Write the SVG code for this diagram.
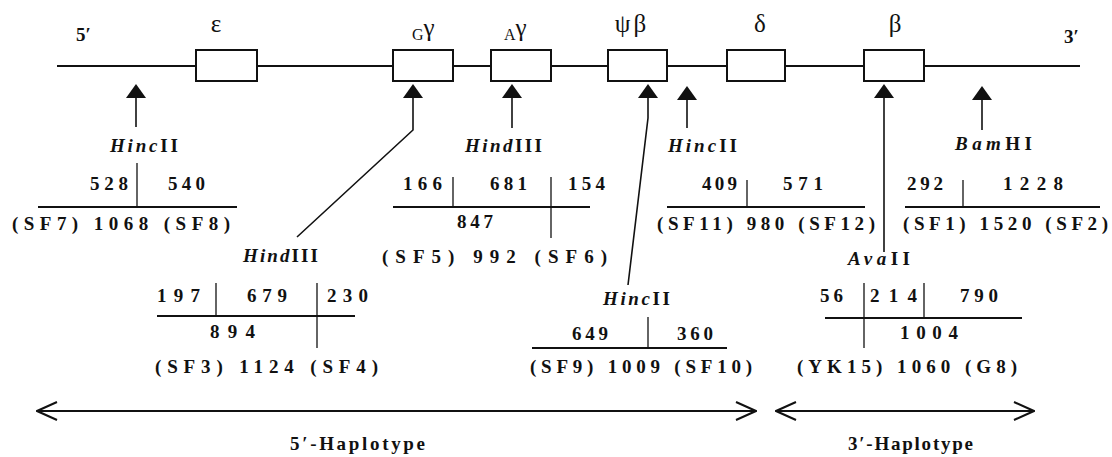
<svg xmlns="http://www.w3.org/2000/svg" xmlns:xlink="http://www.w3.org/1999/xlink" width="1112" height="457" viewBox="0 0 1112 457">
<style>
.t{font-family:"Liberation Serif",serif;font-size:19px;font-weight:bold;fill:#111}
.i{font-style:italic}
.g{font-family:"Liberation Serif",serif;font-size:25px;fill:#111}
.s{font-family:"Liberation Serif",serif;font-size:16px;fill:#111}
.ln{stroke:#111;stroke-width:2;fill:none}
.dv{stroke:#111;stroke-width:1.3;fill:none}
.box{stroke:#111;stroke-width:2;fill:#fff}
.st{stroke:#111;stroke-width:1.6;fill:none}
</style>
<defs>
<path id="tri" d="M0,0 L-10,14 L10,14 Z" fill="#111"/>
<marker id="oa" viewBox="0 0 22 20" refX="21" refY="10" markerWidth="22" markerHeight="20" markerUnits="userSpaceOnUse" orient="auto-start-reverse">
<path d="M1,1 L21,10 L1,19" fill="none" stroke="#111" stroke-width="2"/>
</marker>
</defs>
<rect width="1112" height="457" fill="#fff"/>

<g id="dna">
<line class="ln" x1="57" y1="66" x2="1080" y2="66"/>
<text class="t" x="76" y="41" font-weight="normal">5′</text>
<text class="t" x="1064" y="43" font-weight="normal">3′</text>
</g>

<g id="gene-epsilon">
<rect class="box" x="196" y="50" width="61" height="31"/>
<text class="g" x="216" y="32" text-anchor="middle">ε</text>
</g>
<g id="gene-Ggamma">
<rect class="box" x="393" y="50" width="60" height="31"/>
<text x="412" y="40"><tspan class="s">G</tspan><tspan class="g" font-size="22" dy="-4">γ</tspan></text>
</g>
<g id="gene-Agamma">
<rect class="box" x="491" y="50" width="60" height="31"/>
<text x="504" y="40"><tspan class="s">A</tspan><tspan class="g" font-size="22" dy="-4">γ</tspan></text>
</g>
<g id="gene-psibeta">
<rect class="box" x="608" y="50" width="59" height="31"/>
<text class="g" x="632" y="32" text-anchor="middle" letter-spacing="3">ψβ</text>
</g>
<g id="gene-delta">
<rect class="box" x="727" y="50" width="58" height="31"/>
<text class="g" x="760" y="32" text-anchor="middle">δ</text>
</g>
<g id="gene-beta">
<rect class="box" x="864" y="50" width="60" height="31"/>
<text class="g" x="895" y="32" text-anchor="middle">β</text>
</g>

<g id="connectors">
<use xlink:href="#tri" x="136" y="84"/>
<line class="st" x1="136" y1="97" x2="136" y2="127"/>
<use xlink:href="#tri" x="413" y="84"/>
<polyline class="st" points="413,97 413,130 297,237"/>
<use xlink:href="#tri" x="512" y="84"/>
<line class="st" x1="512" y1="97" x2="512" y2="128"/>
<use xlink:href="#tri" x="648" y="84"/>
<polyline class="st" points="648,97 648,118 628,285"/>
<use xlink:href="#tri" x="687" y="86"/>
<line class="st" x1="687" y1="99" x2="687" y2="128"/>
<use xlink:href="#tri" x="884" y="84"/>
<line class="st" x1="884" y1="97" x2="884" y2="252"/>
<use xlink:href="#tri" x="982" y="86"/>
<line class="st" x1="982" y1="99" x2="982" y2="130"/>
<line class="ln" x1="37" y1="411" x2="756" y2="411" marker-start="url(#oa)" marker-end="url(#oa)"/>
<line class="ln" x1="776" y1="411" x2="1034" y2="411" marker-start="url(#oa)" marker-end="url(#oa)"/>
</g>

<g id="site-hincII-1">
<text class="t" x="110" y="152" textLength="68" lengthAdjust="spacing"><tspan class="i">Hinc</tspan>II</text>
<text class="t" x="90" y="190" textLength="38" lengthAdjust="spacing">528</text>
<text class="t" x="168" y="190" textLength="37" lengthAdjust="spacing">540</text>
<line class="dv" x1="137" y1="163" x2="137" y2="207"/>
<line class="ln" x1="38" y1="207" x2="237" y2="207"/>
<text class="t" x="12" y="230" textLength="218" lengthAdjust="spacing">(SF7) 1068 (SF8)</text>
</g>

<g id="site-hindIII-1">
<text class="t" x="465" y="152" textLength="77" lengthAdjust="spacing"><tspan class="i">Hind</tspan>III</text>
<text class="t" x="403" y="190" textLength="39" lengthAdjust="spacing">166</text>
<text class="t" x="490" y="190" textLength="37" lengthAdjust="spacing">681</text>
<text class="t" x="568" y="190" textLength="37" lengthAdjust="spacing">154</text>
<line class="dv" x1="453" y1="177" x2="453" y2="207"/>
<line class="dv" x1="551" y1="177" x2="551" y2="238"/>
<line class="ln" x1="393" y1="207" x2="590" y2="207"/>
<text class="t" x="457" y="228" textLength="36" lengthAdjust="spacing">847</text>
<text class="t" x="382" y="263" textLength="225" lengthAdjust="spacing">(SF5)  992  (SF6)</text>
</g>

<g id="site-hincII-2">
<text class="t" x="668" y="152" textLength="69" lengthAdjust="spacing"><tspan class="i">Hinc</tspan>II</text>
<text class="t" x="702" y="190" textLength="35" lengthAdjust="spacing">409</text>
<text class="t" x="783" y="190" textLength="40" lengthAdjust="spacing">571</text>
<line class="dv" x1="747" y1="180" x2="747" y2="207"/>
<line class="ln" x1="667" y1="207" x2="865" y2="207"/>
<text class="t" x="657" y="230" textLength="218" lengthAdjust="spacing">(SF11) 980 (SF12)</text>
</g>

<g id="site-bamHI">
<text class="t" x="955" y="150" textLength="77" lengthAdjust="spacing"><tspan class="i">Bam</tspan>HI</text>
<text class="t" x="907" y="190" textLength="36" lengthAdjust="spacing">292</text>
<text class="t" x="1003" y="190" textLength="60" lengthAdjust="spacing">1228</text>
<line class="dv" x1="963" y1="180" x2="963" y2="207"/>
<line class="ln" x1="905" y1="207" x2="1100" y2="207"/>
<text class="t" x="903" y="230" textLength="205" lengthAdjust="spacing">(SF1) 1520 (SF2)</text>
</g>

<g id="site-hindIII-2">
<text class="t" x="243" y="262" textLength="75" lengthAdjust="spacing"><tspan class="i">Hind</tspan>III</text>
<text class="t" x="157" y="302" textLength="43" lengthAdjust="spacing">197</text>
<text class="t" x="247" y="302" textLength="40" lengthAdjust="spacing">679</text>
<text class="t" x="327" y="302" textLength="41" lengthAdjust="spacing">230</text>
<line class="dv" x1="216" y1="283" x2="216" y2="316"/>
<line class="dv" x1="317" y1="283" x2="317" y2="348"/>
<line class="ln" x1="157" y1="316" x2="355" y2="316"/>
<text class="t" x="210" y="338" textLength="45" lengthAdjust="spacing">894</text>
<text class="t" x="155" y="373" textLength="223" lengthAdjust="spacing">(SF3)  1124  (SF4)</text>
</g>

<g id="site-hincII-3">
<text class="t" x="603" y="305" textLength="67" lengthAdjust="spacing"><tspan class="i">Hinc</tspan>II</text>
<text class="t" x="572" y="340" textLength="36" lengthAdjust="spacing">649</text>
<text class="t" x="677" y="340" textLength="36" lengthAdjust="spacing">360</text>
<line class="dv" x1="648" y1="317" x2="648" y2="348"/>
<line class="ln" x1="532" y1="348" x2="727" y2="348"/>
<text class="t" x="530" y="373" textLength="222" lengthAdjust="spacing">(SF9)  1009  (SF10)</text>
</g>

<g id="site-avaII">
<text class="t" x="848" y="265" textLength="62" lengthAdjust="spacing"><tspan class="i">Ava</tspan>II</text>
<text class="t" x="820" y="302" textLength="23" lengthAdjust="spacing">56</text>
<text class="t" x="870" y="302" textLength="47" lengthAdjust="spacing">214</text>
<text class="t" x="960" y="302" textLength="38" lengthAdjust="spacing">790</text>
<line class="dv" x1="864" y1="283" x2="864" y2="348"/>
<line class="dv" x1="924" y1="283" x2="924" y2="318"/>
<line class="ln" x1="825" y1="318" x2="1022" y2="318"/>
<text class="t" x="900" y="339" textLength="58" lengthAdjust="spacing">1004</text>
<text class="t" x="797" y="373" textLength="220" lengthAdjust="spacing">(YK15)  1060  (G8)</text>
</g>

<g id="haplotypes">
<text class="t" x="290" y="450" textLength="135" lengthAdjust="spacing">5′-Haplotype</text>
<text class="t" x="848" y="450" textLength="125" lengthAdjust="spacing">3′-Haplotype</text>
</g>
</svg>
